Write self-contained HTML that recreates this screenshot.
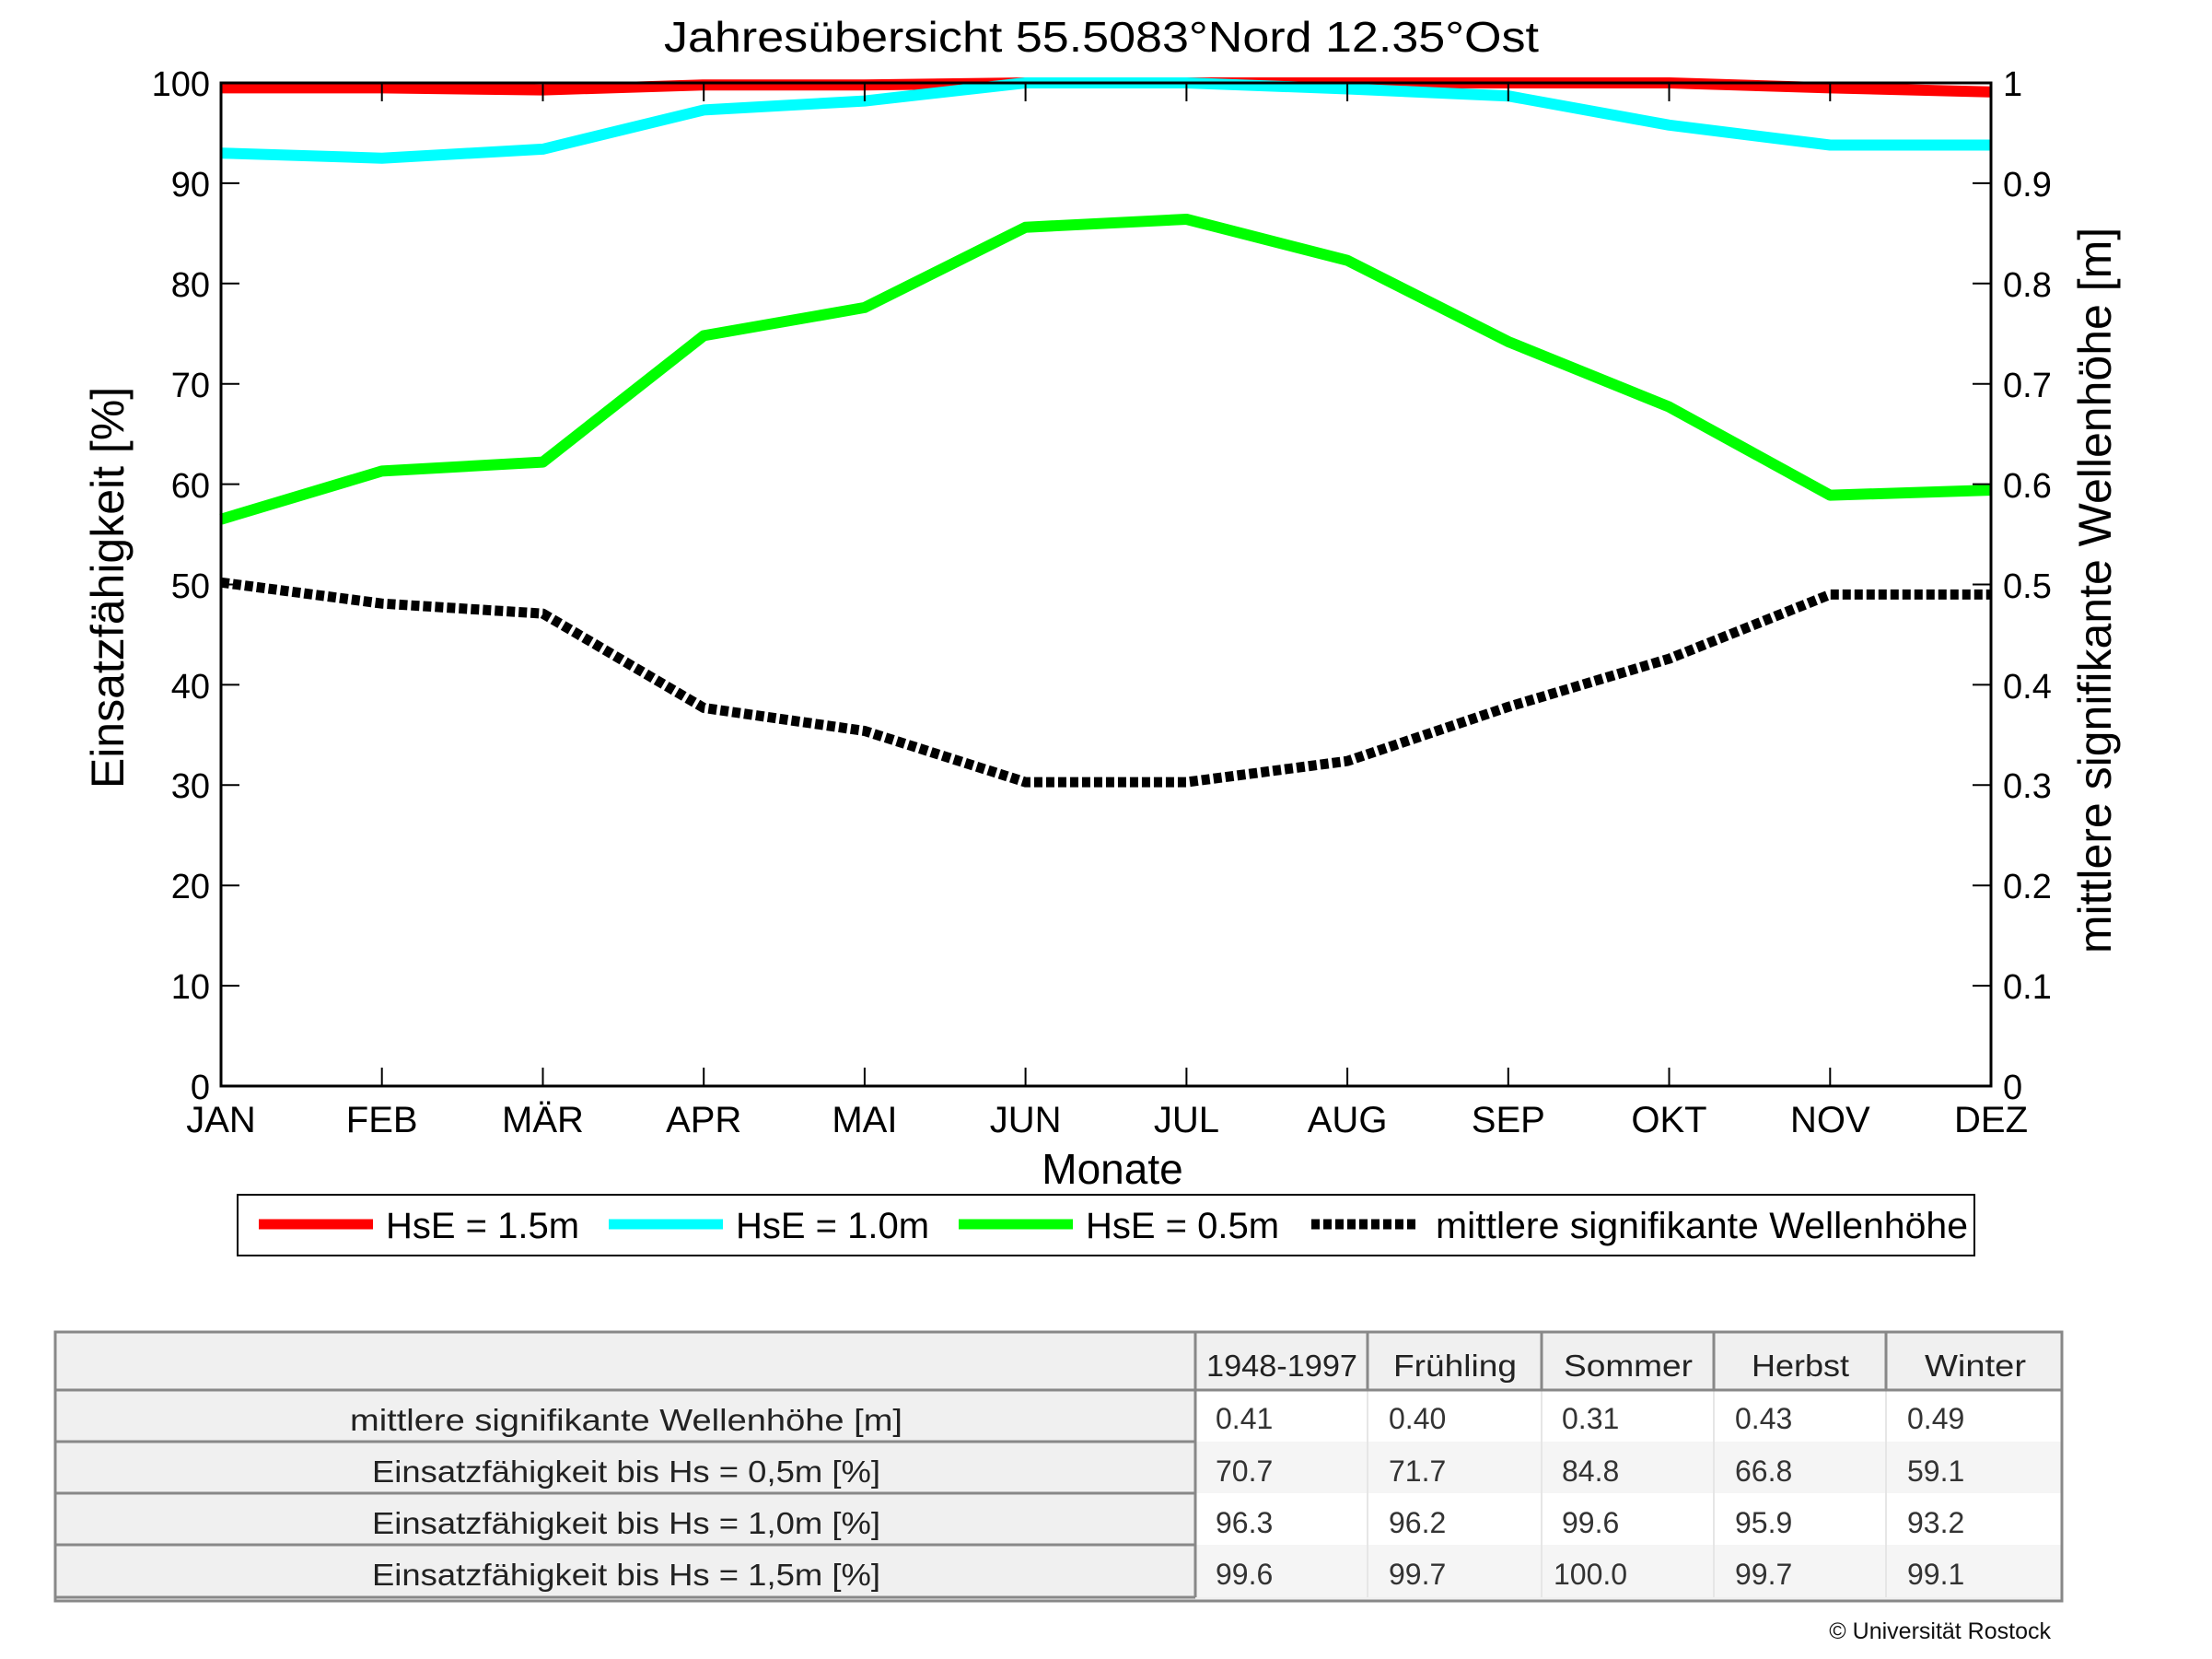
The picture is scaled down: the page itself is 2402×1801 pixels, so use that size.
<!DOCTYPE html>
<html><head><meta charset="utf-8"><style>html,body{margin:0;padding:0;background:#fff}svg{display:block}</style></head>
<body>
<svg width="2402" height="1801" viewBox="0 0 2402 1801" xmlns="http://www.w3.org/2000/svg" font-family="Liberation Sans, Arial, sans-serif">
<rect width="2402" height="1801" fill="#fff"/>
<text x="1196" y="56" font-size="46" text-anchor="middle" textLength="950" lengthAdjust="spacingAndGlyphs">Jahresübersicht  55.5083°Nord  12.35°Ost</text>
<g fill="none" stroke-linejoin="round">
<polyline stroke="#ff0000" stroke-width="12" points="240,95.4 414.7,95.4 589.5,97.6 764.2,92.2 938.9,92.2 1113.6,90 1288.4,90 1463.1,90 1637.8,90 1812.5,90 1987.3,95.4 2162,99.8"/>
<polyline stroke="#00ffff" stroke-width="12" points="240,166.2 414.7,171.7 589.5,161.9 764.2,119.4 938.9,109.6 1113.6,90 1288.4,90 1463.1,96.5 1637.8,104.2 1812.5,135.8 1987.3,157.5 2162,157.5"/>
<polyline stroke="#00ff00" stroke-width="12" points="240,563.7 414.7,511.4 589.5,501.6 764.2,364.4 938.9,333.9 1113.6,246.7 1288.4,238 1463.1,282.7 1637.8,370.9 1812.5,441.7 1987.3,537.6 2162,532.1"/>
<polyline stroke="#000" stroke-width="11" stroke-dasharray="9 4" points="240,632.3 414.7,655.2 589.5,666.1 764.2,768.5 938.9,793.5 1113.6,849.1 1288.4,849.1 1463.1,826.2 1637.8,767.4 1812.5,715.1 1987.3,645.4 2162,645.4"/>
</g>
<rect x="240" y="90" width="1922" height="1089" fill="none" stroke="#000" stroke-width="3"/>
<g stroke="#000" stroke-width="2">
<path d="M240,90h20M240,198.9h20M240,307.8h20M240,416.7h20M240,525.6h20M240,634.5h20M240,743.4h20M240,852.3h20M240,961.2h20M240,1070.1h20"/>
<path d="M2162,90h-20M2162,198.9h-20M2162,307.8h-20M2162,416.7h-20M2162,525.6h-20M2162,634.5h-20M2162,743.4h-20M2162,852.3h-20M2162,961.2h-20M2162,1070.1h-20"/>
<path d="M414.7,1179v-20M589.5,1179v-20M764.2,1179v-20M938.9,1179v-20M1113.6,1179v-20M1288.4,1179v-20M1463.1,1179v-20M1637.8,1179v-20M1812.5,1179v-20M1987.3,1179v-20"/>
<path d="M414.7,90v20M589.5,90v20M764.2,90v20M938.9,90v20M1113.6,90v20M1288.4,90v20M1463.1,90v20M1637.8,90v20M1812.5,90v20M1987.3,90v20"/>
</g>
<g font-size="38" text-anchor="end">
<text x="228" y="104">100</text><text x="228" y="213">90</text><text x="228" y="322">80</text><text x="228" y="431">70</text><text x="228" y="540">60</text><text x="228" y="649">50</text><text x="228" y="758">40</text><text x="228" y="866">30</text><text x="228" y="975">20</text><text x="228" y="1084">10</text><text x="228" y="1193">0</text>
</g>
<g font-size="38">
<text x="2175" y="104">1</text><text x="2175" y="213">0.9</text><text x="2175" y="322">0.8</text><text x="2175" y="431">0.7</text><text x="2175" y="540">0.6</text><text x="2175" y="649">0.5</text><text x="2175" y="758">0.4</text><text x="2175" y="866">0.3</text><text x="2175" y="975">0.2</text><text x="2175" y="1084">0.1</text><text x="2175" y="1193">0</text>
</g>
<g font-size="40" text-anchor="middle">
<text x="240" y="1229">JAN</text><text x="414.7" y="1229">FEB</text><text x="589.5" y="1229">MÄR</text><text x="764.2" y="1229">APR</text><text x="938.9" y="1229">MAI</text><text x="1113.6" y="1229">JUN</text><text x="1288.4" y="1229">JUL</text><text x="1463.1" y="1229">AUG</text><text x="1637.8" y="1229">SEP</text><text x="1812.5" y="1229">OKT</text><text x="1987.3" y="1229">NOV</text><text x="2162" y="1229">DEZ</text>
<text x="1208" y="1285" font-size="46">Monate</text>
</g>
<text transform="translate(134,638) rotate(-90)" font-size="50" text-anchor="middle">Einsatzfähigkeit [%]</text>
<text transform="translate(2292,641) rotate(-90)" font-size="50" text-anchor="middle">mittlere signifikante Wellenhöhe [m]</text>
<rect x="258" y="1297" width="1886" height="66" fill="#fff" stroke="#000" stroke-width="2"/>
<g stroke-width="11">
<line x1="281" y1="1329" x2="405" y2="1329" stroke="#ff0000"/>
<line x1="661" y1="1329" x2="785" y2="1329" stroke="#00ffff"/>
<line x1="1041" y1="1329" x2="1165" y2="1329" stroke="#00ff00"/>
<line x1="1424" y1="1329" x2="1540" y2="1329" stroke="#000" stroke-dasharray="9 4"/>
</g>
<g font-size="40">
<text x="419" y="1344">HsE = 1.5m</text><text x="799" y="1344">HsE = 1.0m</text><text x="1179" y="1344">HsE = 0.5m</text><text x="1559" y="1344" textLength="578" lengthAdjust="spacingAndGlyphs">mittlere signifikante Wellenhöhe</text>
</g>
<rect x="60" y="1446" width="2179" height="292" fill="#f0f0f0"/>
<rect x="1298" y="1509" width="941" height="56" fill="#fff"/>
<rect x="1298" y="1565" width="941" height="56" fill="#f5f5f5"/>
<rect x="1298" y="1621" width="941" height="56" fill="#fff"/>
<rect x="1298" y="1677" width="941" height="57" fill="#f5f5f5"/>
<g stroke="#e6e6e6" stroke-width="2">
<path d="M1485,1509V1734M1674,1509V1734M1861,1509V1734M2048,1509V1734"/>
</g>
<g stroke="#888" stroke-width="3" fill="none">
<rect x="60" y="1446" width="2179" height="292"/>
<path d="M60,1509H2239M60,1565H1298M60,1621H1298M60,1677H1298M60,1734H1298"/>
<path d="M1298,1446V1734M1485,1446V1509M1674,1446V1509M1861,1446V1509M2048,1446V1509"/>
</g>
<g font-size="33" fill="#222" text-anchor="middle">
<text x="1392" y="1494" textLength="164" lengthAdjust="spacingAndGlyphs">1948-1997</text>
<text x="1580" y="1494" textLength="134" lengthAdjust="spacingAndGlyphs">Frühling</text>
<text x="1768" y="1494" textLength="140" lengthAdjust="spacingAndGlyphs">Sommer</text>
<text x="1955" y="1494" textLength="106" lengthAdjust="spacingAndGlyphs">Herbst</text>
<text x="2145" y="1494" textLength="110" lengthAdjust="spacingAndGlyphs">Winter</text>
<text x="680" y="1553" textLength="600" lengthAdjust="spacingAndGlyphs">mittlere signifikante Wellenhöhe [m]</text>
<text x="680" y="1609" textLength="552" lengthAdjust="spacingAndGlyphs">Einsatzfähigkeit bis Hs = 0,5m [%]</text>
<text x="680" y="1665" textLength="552" lengthAdjust="spacingAndGlyphs">Einsatzfähigkeit bis Hs = 1,0m [%]</text>
<text x="680" y="1721" textLength="552" lengthAdjust="spacingAndGlyphs">Einsatzfähigkeit bis Hs = 1,5m [%]</text>
</g>
<g font-size="32" fill="#333">
<text x="1320" y="1551">0.41</text><text x="1508" y="1551">0.40</text><text x="1696" y="1551">0.31</text><text x="1884" y="1551">0.43</text><text x="2071" y="1551">0.49</text>
<text x="1320" y="1608">70.7</text><text x="1508" y="1608">71.7</text><text x="1696" y="1608">84.8</text><text x="1884" y="1608">66.8</text><text x="2071" y="1608">59.1</text>
<text x="1320" y="1664">96.3</text><text x="1508" y="1664">96.2</text><text x="1696" y="1664">99.6</text><text x="1884" y="1664">95.9</text><text x="2071" y="1664">93.2</text>
<text x="1320" y="1720">99.6</text><text x="1508" y="1720">99.7</text><text x="1687" y="1720">100.0</text><text x="1884" y="1720">99.7</text><text x="2071" y="1720">99.1</text>
</g>
<text x="2227" y="1779" font-size="25" text-anchor="end" fill="#111">© Universität Rostock</text>
</svg>
</body></html>
